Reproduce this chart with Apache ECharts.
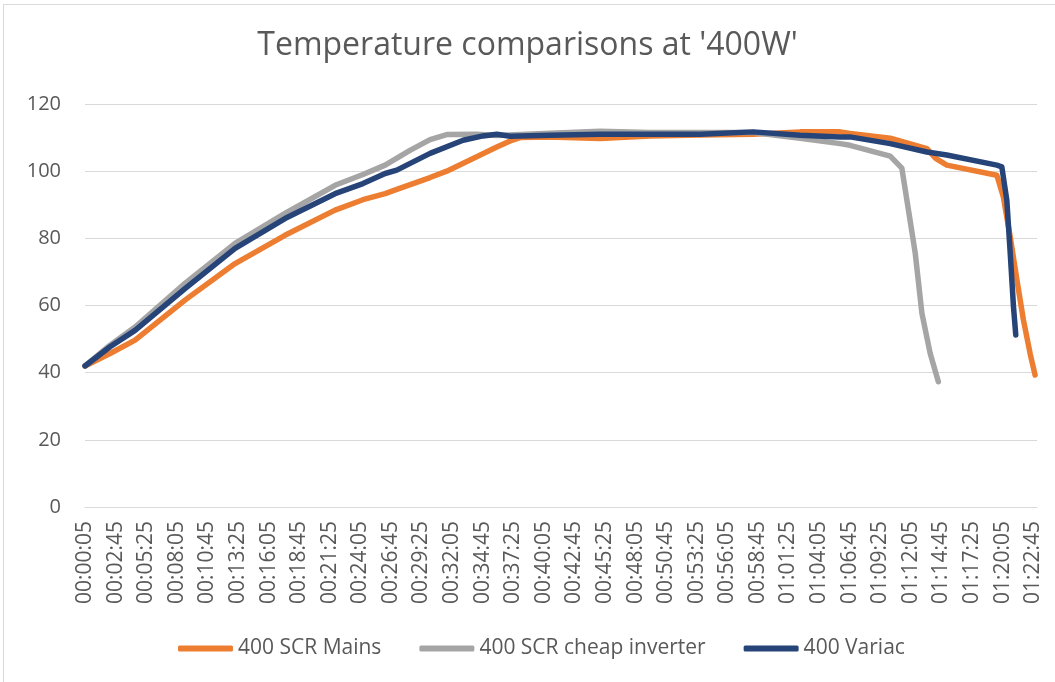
<!DOCTYPE html>
<html>
<head>
<meta charset="utf-8">
<script src="https://cdn.jsdelivr.net/npm/echarts@6/dist/echarts.min.js"></script>
<style>
  html, body { margin: 0; padding: 0; background: #fff; overflow: hidden; }
  #frame { position: absolute; left: 3px; top: 4px; width: 1070px; height: 700px; border: 1px solid #d9d9d9; }
  #chart-container { position: absolute; left: 0; top: 0; width: 1055px; height: 682px; }
</style>
</head>
<body>
<div id="frame"></div>
<div id="chart-container"></div>
<script>
// x tick labels, one every 160 s starting at 00:00:05
const timeLabels = ['00:00:05', '00:02:45', '00:05:25', '00:08:05', '00:10:45', '00:13:25', '00:16:05', '00:18:45',
  '00:21:25', '00:24:05', '00:26:45', '00:29:25', '00:32:05', '00:34:45', '00:37:25', '00:40:05',
  '00:42:45', '00:45:25', '00:48:05', '00:50:45', '00:53:25', '00:56:05', '00:58:45', '01:01:25',
  '01:04:05', '01:06:45', '01:09:25', '01:12:05', '01:14:45', '01:17:25', '01:20:05', '01:22:45'];

// seconds elapsed since 00:00:05, and temperature
const mainsSec = [0, 131, 262, 523, 785, 1046, 1308, 1454, 1570, 1631, 1805, 1892, 2014, 2154, 2224, 2276, 2433, 2694, 2956,
  3218, 3495, 3741, 3950, 4002, 4212, 4404, 4450, 4508, 4770, 4778, 4804, 4840, 4875, 4909, 4944, 4970];
const mainsTemp = [42, 45.7, 49.7, 61.6, 72.5, 80.9, 88.4, 91.5, 93.3, 94.6, 98.1, 100, 103.3, 107.2, 109, 110, 110.2, 109.7, 110.5,
  110.8, 111, 111.7, 111.7, 111.2, 109.8, 106.7, 103.8, 101.8, 98.8, 98.3, 92.3, 80.4, 67.6, 55.7, 45.7, 39.3];

const cheapSec = [0, 131, 262, 523, 785, 1046, 1308, 1454, 1570, 1700, 1805, 1892, 2049, 2154, 2433, 2694, 2956,
  3218, 3495, 3741, 3950, 4002, 4212, 4273, 4316, 4343, 4378, 4421, 4464];
const cheapTemp = [42, 48.2, 53.6, 66.6, 78.5, 87.4, 95.8, 99, 101.8, 106.2, 109.4, 110.9, 111, 110.6, 111.3, 111.9, 111.5,
  111.5, 111.5, 109.8, 108.2, 107.7, 104.5, 100.9, 85.4, 75.6, 57.7, 45.8, 37.3];

const variacSec = [0, 131, 262, 523, 785, 1046, 1308, 1454, 1570, 1631, 1805, 1978, 2082, 2154, 2224, 2433, 2694, 2956, 3218,
  3495, 3741, 3950, 4002, 4212, 4404, 4508, 4770, 4796, 4822, 4840, 4857, 4869];
const variacTemp = [42, 47.7, 52.6, 65, 77, 85.9, 93.3, 96.3, 99.3, 100.3, 105.3, 109.2, 110.5, 111, 110.4, 110.7, 111, 111, 111,
  111.7, 110.7, 110.2, 110.2, 108.2, 105.7, 104.8, 101.8, 101.3, 91.4, 75.5, 59.6, 51.2];

function pairs(xs, ys) {
  return xs.map((x, i) => [x, ys[i]]);
}

const FONT = '"Open Sans", sans-serif';
const TEXT = '#595959';

const myChart = echarts.init(document.getElementById('chart-container'));

myChart.setOption({
  animation: false,
  textStyle: { fontFamily: FONT },
  title: {
    text: "Temperature comparisons at '400W'",
    left: 'center',
    top: 25,
    textStyle: { fontFamily: FONT, fontSize: 32, fontWeight: 'normal', color: TEXT }
  },
  legend: {
    left: 173,
    top: 633,
    icon: 'roundRect',
    itemWidth: 55,
    itemHeight: 6,
    itemGap: 38,
    textStyle: { fontFamily: FONT, fontSize: 21, color: TEXT }
  },
  grid: {
    left: 85,
    right: 18,
    top: 104,
    bottom: 175
  },
  xAxis: {
    type: 'value',
    min: 0,
    max: 4980,
    interval: 160,
    axisLine: { lineStyle: { color: '#d9d9d9' } },
    axisTick: { show: false },
    splitLine: { show: false },
    axisLabel: {
      rotate: 90,
      margin: 14,
      showMaxLabel: false,
      fontFamily: FONT,
      fontSize: 21,
      color: TEXT,
      formatter: v => (v % 160 === 0 ? timeLabels[v / 160] || '' : '')
    }
  },
  yAxis: {
    type: 'value',
    min: 0,
    max: 120,
    interval: 20,
    axisLine: { show: false },
    axisTick: { show: false },
    splitLine: { lineStyle: { color: '#d9d9d9' } },
    axisLabel: { margin: 24, fontFamily: FONT, fontSize: 20, color: TEXT }
  },
  series: [
    {
      name: '400 SCR Mains',
      type: 'line',
      showSymbol: false,
      data: pairs(mainsSec, mainsTemp),
      lineStyle: { width: 5.5, color: '#ED7D31', cap: 'round', join: 'round' },
      itemStyle: { color: '#ED7D31' }
    },
    {
      name: '400 SCR cheap inverter',
      type: 'line',
      showSymbol: false,
      data: pairs(cheapSec, cheapTemp),
      lineStyle: { width: 5.5, color: '#A5A5A5', cap: 'round', join: 'round' },
      itemStyle: { color: '#A5A5A5' }
    },
    {
      name: '400 Variac',
      type: 'line',
      showSymbol: false,
      data: pairs(variacSec, variacTemp),
      lineStyle: { width: 5.5, color: '#264478', cap: 'round', join: 'round' },
      itemStyle: { color: '#264478' }
    }
  ]
});
</script>
</body>
</html>
